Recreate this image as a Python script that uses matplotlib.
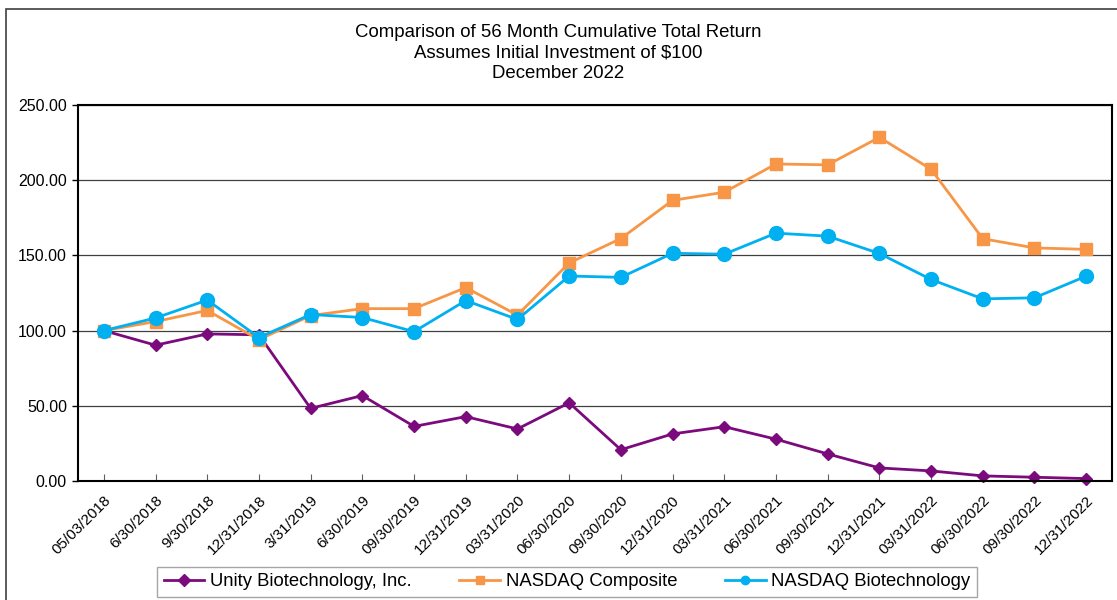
"""
cumulative total return comparison chart
"""
import matplotlib
matplotlib.use('Agg')
import matplotlib.pyplot as plt
from matplotlib.ticker import FormatStrFormatter

plt.rcParams['font.family'] = ['Liberation Sans', 'DejaVu Sans']

dates = ['05/03/2018', '6/30/2018', '9/30/2018', '12/31/2018', '3/31/2019',
         '6/30/2019', '09/30/2019', '12/31/2019', '03/31/2020', '06/30/2020',
         '09/30/2020', '12/31/2020', '03/31/2021', '06/30/2021', '09/30/2021',
         '12/31/2021', '03/31/2022', '06/30/2022', '09/30/2022', '12/31/2022']

unity = [100, 90.3, 97.8, 97.2, 48.3, 56.8, 36.3, 42.8, 34.6, 52.0,
         20.8, 31.3, 36.1, 27.8, 18.0, 8.7, 6.7, 3.4, 2.5, 1.6]
nasdaq_comp = [100, 106.0, 113.4, 94.0, 110.0, 114.6, 114.6, 128.6, 110.3, 145.0,
               161.2, 186.6, 192.0, 210.8, 210.2, 228.5, 207.3, 161.1, 155.0, 154.0]
nasdaq_bio = [100, 108.4, 120.3, 95.4, 110.7, 108.7, 99.3, 120.0, 107.4, 136.3,
              135.4, 151.4, 150.8, 164.8, 162.8, 151.3, 134.0, 121.1, 121.8, 136.2]

names = ['Unity Biotechnology, Inc.', 'NASDAQ Composite', 'NASDAQ Biotechnology']
colors = ['#7B0A7D', '#F79646', '#00B0F0']
markers = ['D', 's', 'o']
sizes = [6, 9, 10]

W, H = 1117, 600
fig = plt.figure(figsize=(W / 100, H / 100), dpi=100)
ax = fig.add_axes([78 / W, 1 - 481 / H, 1034 / W, 376 / H])

x = range(len(dates))
for vals, name, c, m, s in zip([unity, nasdaq_comp, nasdaq_bio], names, colors, markers, sizes):
    ax.plot(x, vals, color=c, marker=m, markersize=s, linewidth=2, label=name, clip_on=False)

ax.set_xlim(-0.5, len(dates) - 0.5)
ax.set_ylim(0, 250)
ax.set_yticks([0, 50, 100, 150, 200, 250])
ax.yaxis.set_major_formatter(FormatStrFormatter('%.2f'))
ax.yaxis.grid(True, color='#404040', linewidth=0.9)
ax.set_axisbelow(True)
ax.set_xticks(list(x))
ax.set_xticklabels(dates, rotation=45, ha='right', rotation_mode='anchor', fontsize=11)
ax.tick_params(axis='y', labelsize=11.5, length=4, width=1, pad=4)
ax.tick_params(axis='x', direction='in', length=5, color='#606060', pad=9)
for side in ['top', 'right', 'left', 'bottom']:
    ax.spines[side].set_linewidth(1.5)

fig.text(0.5, 1 - 53 / H, 'Comparison of 56 Month Cumulative Total Return\n'
         'Assumes Initial Investment of $100\nDecember 2022',
         ha='center', va='center', fontsize=13.4, linespacing=1.3)

leg = fig.legend(loc='center', bbox_to_anchor=(567 / W, 1 - 582 / H), ncol=3,
                 fontsize=13.3, frameon=True, fancybox=False, edgecolor='#909090',
                 handlelength=2.2, handletextpad=0.3, columnspacing=2.6, borderpad=0.35,
                 borderaxespad=0)
leg.get_frame().set_linewidth(1)
for h in leg.legend_handles:
    h.set_markersize(6)

fig.patches.append(plt.Rectangle((6 / W, -0.05), 1.1, 1.05 - 9 / H, transform=fig.transFigure,
                                 fill=False, edgecolor='#404040', linewidth=1.2))

fig.savefig('out.png', dpi=100)
